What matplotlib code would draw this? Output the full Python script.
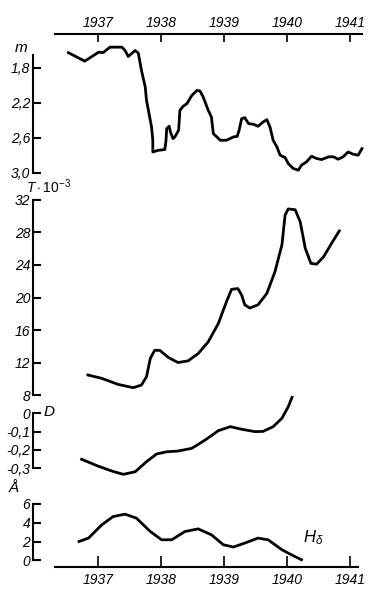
import numpy as np
import matplotlib.pyplot as plt

plt.rcParams['font.family'] = 'Liberation Sans'
plt.rcParams['mathtext.fontset'] = 'custom'
plt.rcParams['mathtext.rm'] = 'Liberation Sans'
plt.rcParams['mathtext.it'] = 'Liberation Sans:italic'

# water level m (depth scale, inverted)
m_years = [1936.53, 1936.79, 1937.01, 1937.08, 1937.19, 1937.38, 1937.43, 1937.48,
           1937.59, 1937.64, 1937.69, 1937.75, 1937.77, 1937.80, 1937.85, 1937.87,
           1937.87, 1937.96, 1938.06, 1938.08, 1938.09, 1938.13, 1938.15, 1938.19,
           1938.22, 1938.28, 1938.30, 1938.35, 1938.41, 1938.49, 1938.57, 1938.62,
           1938.67, 1938.75, 1938.80, 1938.83, 1938.94, 1939.04, 1939.15, 1939.21,
           1939.24, 1939.28, 1939.33, 1939.39, 1939.47, 1939.54, 1939.62, 1939.68,
           1939.73, 1939.78, 1939.84, 1939.89, 1939.97, 1940.02, 1940.10, 1940.18,
           1940.23, 1940.31, 1940.39, 1940.47, 1940.55, 1940.66, 1940.74, 1940.81,
           1940.89, 1940.97, 1941.05, 1941.13, 1941.19]
m_vals = [1.63, 1.726, 1.624, 1.63, 1.567, 1.567, 1.605, 1.673,
          1.605, 1.635, 1.832, 2.021, 2.173, 2.286, 2.476, 2.627,
          2.76, 2.741, 2.733, 2.627, 2.495, 2.468, 2.533, 2.608,
          2.589, 2.513, 2.286, 2.241, 2.211, 2.116, 2.059, 2.067,
          2.135, 2.286, 2.362, 2.551, 2.627, 2.627, 2.589, 2.582,
          2.513, 2.381, 2.37, 2.438, 2.445, 2.468, 2.419, 2.393,
          2.476, 2.627, 2.703, 2.797, 2.824, 2.892, 2.949, 2.968,
          2.911, 2.873, 2.809, 2.835, 2.847, 2.816, 2.816, 2.843,
          2.816, 2.76, 2.786, 2.797, 2.722]

# T * 10^-3
t_years = [1936.84, 1937.06, 1937.32, 1937.56, 1937.69, 1937.77, 1937.83, 1937.90,
           1937.98, 1938.12, 1938.27, 1938.43, 1938.59, 1938.75, 1938.91, 1939.04,
           1939.12, 1939.22, 1939.28, 1939.33, 1939.41, 1939.54, 1939.68, 1939.81,
           1939.92, 1939.97, 1940.02, 1940.13, 1940.21, 1940.29, 1940.38, 1940.47,
           1940.58, 1940.71, 1940.83]
t_vals = [10.46, 10.05, 9.3, 8.9, 9.23, 10.25, 12.5, 13.5,
          13.5, 12.6, 12.0, 12.2, 13.1, 14.55, 16.8, 19.5,
          21.0, 21.1, 20.3, 19.1, 18.7, 19.1, 20.5, 23.2,
          26.5, 30.15, 30.9, 30.8, 29.3, 26.05, 24.2, 24.1,
          25.0, 26.7, 28.2]

# D
d_years = [1936.74, 1937.00, 1937.22, 1937.40, 1937.59, 1937.77, 1937.93, 1938.09,
           1938.27, 1938.49, 1938.70, 1938.91, 1939.10, 1939.28, 1939.49, 1939.62,
           1939.78, 1939.92, 1940.02, 1940.08]
d_vals = [-0.251, -0.288, -0.315, -0.333, -0.319, -0.264, -0.222, -0.21,
          -0.206, -0.191, -0.146, -0.095, -0.073, -0.087, -0.1, -0.099,
          -0.073, -0.027, 0.036, 0.087]

# H-delta equivalent width, Angstrom
h_years = [1936.70, 1936.85, 1937.06, 1937.24, 1937.43, 1937.61, 1937.83, 1938.01,
           1938.17, 1938.38, 1938.59, 1938.80, 1938.99, 1939.15, 1939.33, 1939.54,
           1939.70, 1939.92, 1940.07, 1940.23]
h_vals = [2.01, 2.37, 3.78, 4.66, 4.91, 4.49, 3.07, 2.19,
          2.19, 3.07, 3.35, 2.72, 1.66, 1.42, 1.84, 2.37,
          2.19, 1.13, 0.6, 0.07]

year_ticks = [1937, 1938, 1939, 1940, 1941]
year_labels = ['1937', '1938', '1939', '1940', '1941']
m_ticks = [1.8, 2.2, 2.6, 3.0]
m_labels = ['1,8', '2,2', '2,6', '3,0']
t_ticks = [8, 12, 16, 20, 24, 28, 32]
d_ticks = [0, -0.1, -0.2, -0.3]
d_labels = ['0', '-0,1', '-0,2', '-0,3']
h_ticks = [0, 2, 4, 6]

W, H = 378, 607
fig = plt.figure(figsize=(W / 100, H / 100), dpi=100)


def px_axes(x0, y0, x1, y1):
    return fig.add_axes([x0 / W, 1 - y1 / H, (x1 - x0) / W, (y1 - y0) / H])


def year_at(px):
    return 1937 + (px - 98) / 63


def italic_labels(labels):
    for lbl in labels:
        lbl.set_fontstyle('italic')
        lbl.set_fontsize(10)


X0, X1 = 33, 362
lw = 2.0

ax_m = px_axes(X0, 34, X1, 173)
ax_t = px_axes(X0, 195, X1, 400)
ax_d = px_axes(X0, 390, X1, 478)
ax_h = px_axes(X0, 490, X1, 567)

for ax in (ax_m, ax_t, ax_d, ax_h):
    ax.set_xlim(year_at(X0), year_at(X1))
    ax.patch.set_visible(False)
    for s in ax.spines.values():
        s.set_visible(False)
        s.set_linewidth(1.5)
    ax.spines['left'].set_visible(True)
    ax.tick_params(axis='y', direction='in', length=6, width=1.5, pad=2)
    ax.tick_params(axis='x', direction='in', length=6, width=1.2)

# m panel
ax_m.plot(m_years, m_vals, color='black', lw=lw, clip_on=False)
ax_m.set_ylim(3.0, 1.417)
ax_m.spines['left'].set_bounds(1.656, 3.0)
ax_m.set_yticks(m_ticks, m_labels)
ax_m.spines['top'].set_visible(True)
ax_m.spines['top'].set_bounds(year_at(55), year_at(X1))
ax_m.xaxis.tick_top()
ax_m.set_xticks(year_ticks, year_labels)
ax_m.tick_params(axis='x', pad=3)
ax_m.text(year_at(21), 1.576, 'm', fontstyle='italic', fontsize=11,
          ha='center', va='center')

# T panel
ax_t.plot(t_years, t_vals, color='black', lw=lw, clip_on=False)
ax_t.set_ylim(7.385, 32.615)
ax_t.spines['left'].set_bounds(8, 32)
ax_t.set_yticks(t_ticks, [str(v) for v in t_ticks])
ax_t.set_xticks([])
ax_t.text(year_at(26), 33.6, r'$T\cdot10^{-3}$', fontsize=10,
          ha='left', va='center')

# D panel
ax_d.plot(d_years, d_vals, color='black', lw=lw, clip_on=False)
ax_d.set_ylim(-0.353, 0.127)
ax_d.spines['left'].set_bounds(-0.3, 0)
ax_d.set_yticks(d_ticks, d_labels)
ax_d.set_xticks([])
ax_d.text(year_at(44), 0.005, 'D', fontstyle='italic', fontsize=11,
          ha='left', va='center')

# H-delta panel
ax_h.plot(h_years, h_vals, color='black', lw=lw, clip_on=False)
ax_h.set_ylim(-0.70, 7.48)
ax_h.spines['left'].set_bounds(0, 6)
ax_h.set_yticks(h_ticks, [str(v) for v in h_ticks])
ax_h.spines['bottom'].set_visible(True)
ax_h.spines['bottom'].set_bounds(year_at(55), year_at(358))
ax_h.set_xticks(year_ticks, year_labels)
ax_h.tick_params(axis='x', pad=4, length=8)
ax_h.text(year_at(14), 7.7, '\u00c5', fontstyle='italic', fontsize=11,
          ha='center', va='center')
ax_h.text(year_at(303), 2.4, r'$H_{\delta}$', fontsize=12,
          ha='left', va='center')

for ax in (ax_m, ax_t, ax_d, ax_h):
    italic_labels(ax.get_yticklabels())
    italic_labels(ax.get_xticklabels())

fig.savefig('out.png', dpi=100)
